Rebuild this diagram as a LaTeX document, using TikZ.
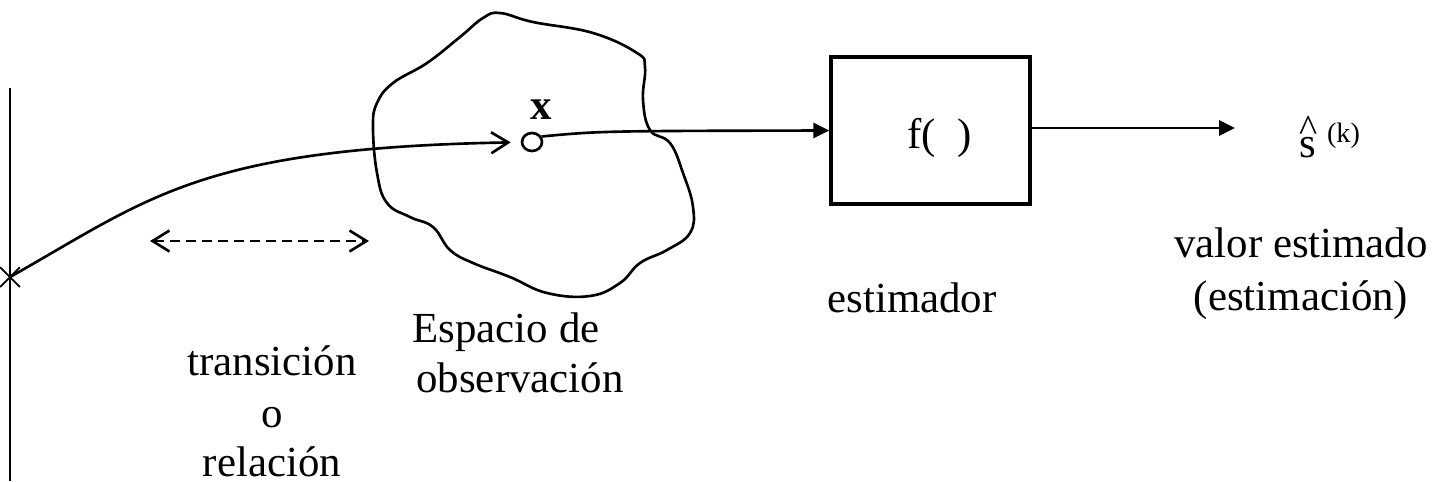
\documentclass[tikz,border=0pt]{standalone}
\usepackage{fontspec}
\setmainfont{Liberation Serif}
\usetikzlibrary{arrows.meta,shapes.geometric,shapes.misc}
\begin{document}
\begin{tikzpicture}[x=0.02cm,y=-0.02cm,
  ln/.style={line width=1.5pt},
  txt/.style={anchor=base,inner sep=0pt,font=\fontsize{24.4}{29.5}\selectfont},
  openarr/.style={-{Straight Barb[length=3.4mm,width=4.2mm]}},
  fillarr/.style={-{Triangle[length=3.2mm,width=3mm]}},
]
\useasboundingbox (0,0) rectangle (1437,481);
% left axis
\coordinate (top) at (10,88);
\coordinate (bot) at (10,481);
\draw[ln] (top) -- (bot);
\node[cross out, draw, line width=1pt, minimum size=0.36cm, inner sep=0pt] (xm) at (10,277) {};
% observation space blob
\draw[ln] plot[smooth cycle, tension=0.7] coordinates {(500,13) (533,22) (593,33) (637,53) (645,67) (643,100) (650,130) (670,143) (683,173) (693,207) (690,233) (667,250) (640,263) (620,283) (590,296) (547,293) (510,277) (473,263) (450,250) (433,227) (410,217) (387,203) (377,173) (373,127) (377,103) (393,83) (427,63) (460,37) (483,18)};
% observation point
\node[ellipse, draw, ln, minimum width=0.4cm, minimum height=0.36cm, inner sep=0pt] (obs) at (532,142) {};
\node[txt] (xl) at (541,119) {\bfseries x};
\draw[ln, openarr, shorten >=0.2cm] (xm.center) .. controls (150,198) and (200,148) .. (obs);
% dashed double arrow
\coordinate (d1) at (150,241);
\coordinate (d2) at (369,241);
\draw[ln, dash pattern=on 0.2cm off 0.12cm, {Straight Barb[length=3.4mm,width=4.2mm]}-{Straight Barb[length=3.4mm,width=4.2mm]}] (d1) -- (d2);
% estimator box
\node[draw, line width=1.9pt, minimum width=3.98cm, minimum height=2.94cm, inner sep=0pt] (box) at (930.5,130.5) {};
\node[txt] (ftxt) at (939.5,148) {f(\hspace{0.5em})};
\draw[ln, fillarr] (obs.30) .. controls (600,131) .. (box.west);
\coordinate (out) at (1235,128);
\draw[ln, fillarr] (box.east |- out) -- (out);
% estimate symbol
\node[txt] (s) at (1308,157) {s};
\node[txt, font=\fontsize{22}{26}\selectfont] (hat) at (1309,141) {\textasciicircum};
\node[txt, font=\fontsize{16}{19}\selectfont] (k) at (1343.5,142) {(k)};
% labels
\node[txt] (val1) at (1301,257) {valor estimado};
\node[txt] (val2) at (1301,310) {(estimación)};
\node[txt] (est) at (912,312) {estimador};
\node[txt] (esp1) at (506,342) {Espacio de};
\node[txt] (esp2) at (520,392) {observación};
\node[txt] (tr1) at (272,375) {transición};
\node[txt] (tr2) at (272,427) {o};
\node[txt] (tr3) at (272,476) {relación};
\end{tikzpicture}
\end{document}
